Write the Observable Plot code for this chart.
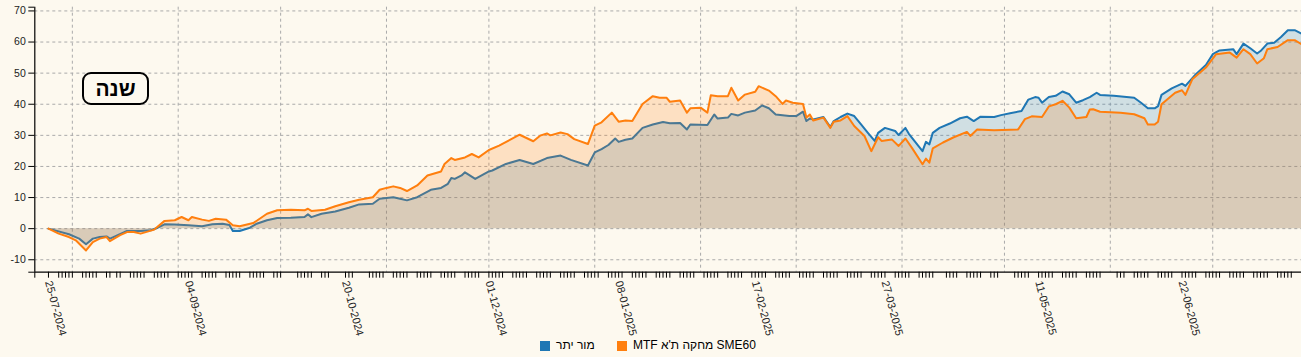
<!DOCTYPE html>
<html>
<head>
<meta charset="utf-8">
<script src="https://cdn.jsdelivr.net/npm/d3@7"></script>
<script src="https://cdn.jsdelivr.net/npm/@observablehq/plot@0.6"></script>
<style>
  html, body { margin: 0; padding: 0; background: #fdf9ef; }
  #wrap { position: relative; width: 1301px; height: 357px; overflow: hidden; }
  #badge { position: absolute; left: 82px; top: 72px; width: 63px; height: 29px; border: 2px solid #000; border-radius: 9px;
           font: bold 21px "Liberation Sans", Arial, sans-serif; color: #000; text-align: center; line-height: 29px; }
  .sw { position: absolute; top: 341px; width: 10px; height: 10px; }
  .lt { position: absolute; top: 338px; font: 12px "Liberation Sans", Arial, sans-serif; color: #000; line-height: 15px; white-space: nowrap; }
</style>
</head>
<body>
<div id="wrap">
  <div id="chart"></div>
  <div id="badge">שנה</div>
  <div id="legend"></div>
</div>
<script>
// ---- data ----
const seriesNames = ["מור יתר", "MTF מחקה ת'א SME60"];
const seriesColors = ["#1f77b4", "#ff7f0e"];

const blueDates = ["2024-07-25","2024-07-31","2024-08-03","2024-08-05","2024-08-07","2024-08-09","2024-08-11","2024-08-12","2024-08-13","2024-08-17",
"2024-08-21","2024-08-24","2024-08-26","2024-08-28","2024-08-31","2024-09-04","2024-09-08","2024-09-11","2024-09-14","2024-09-16",
"2024-09-17","2024-09-19","2024-09-22","2024-09-24","2024-09-27","2024-09-30","2024-10-04","2024-10-08","2024-10-09","2024-10-10",
"2024-10-13","2024-10-17","2024-10-21","2024-10-24","2024-10-28","2024-10-30","2024-11-03","2024-11-05","2024-11-07","2024-11-10",
"2024-11-14","2024-11-17","2024-11-19","2024-11-20","2024-11-21","2024-11-23","2024-11-24","2024-11-27","2024-12-01","2024-12-02",
"2024-12-06","2024-12-10","2024-12-14","2024-12-18","2024-12-22","2024-12-25","2024-12-30","2025-01-01","2025-01-03","2025-01-05",
"2025-01-07","2025-01-08","2025-01-10","2025-01-12","2025-01-15","2025-01-18","2025-01-21","2025-01-23","2025-01-26","2025-01-28",
"2025-01-29","2025-02-03","2025-02-05","2025-02-06","2025-02-09","2025-02-10","2025-02-12","2025-02-14","2025-02-17","2025-02-19",
"2025-02-21","2025-02-23","2025-02-27","2025-03-01","2025-03-03","2025-03-04","2025-03-05","2025-03-06","2025-03-09","2025-03-11",
"2025-03-12","2025-03-14","2025-03-16","2025-03-18","2025-03-20","2025-03-22","2025-03-24","2025-03-25","2025-03-27","2025-03-30",
"2025-03-31","2025-04-02","2025-04-03","2025-04-07","2025-04-08","2025-04-09","2025-04-10","2025-04-12","2025-04-15","2025-04-18",
"2025-04-20","2025-04-22","2025-04-24","2025-04-28","2025-04-30","2025-05-03","2025-05-06","2025-05-08","2025-05-10","2025-05-11",
"2025-05-12","2025-05-14","2025-05-16","2025-05-18","2025-05-20","2025-05-22","2025-05-24","2025-05-26","2025-05-28","2025-05-29",
"2025-06-02","2025-06-08","2025-06-10","2025-06-12","2025-06-14","2025-06-15","2025-06-16","2025-06-19","2025-06-22","2025-06-23",
"2025-06-26","2025-06-29","2025-07-01","2025-07-03","2025-07-07","2025-07-08","2025-07-10","2025-07-12","2025-07-14","2025-07-15",
"2025-07-17","2025-07-19","2025-07-21","2025-07-23","2025-07-25","2025-07-27"];
const blueValues = [0,-1.8,-3.2,-5.0,-3.2,-2.7,-2.5,-3.2,-2.7,-0.75,
-0.75,-0.5,0.3,1.4,1.3,1.1,0.75,1.4,1.6,1.2,
-0.75,-0.75,0.3,1.6,2.7,3.4,3.5,3.75,4.6,3.7,
4.8,5.5,6.7,7.8,8.0,9.6,10.1,9.6,9.1,10.1,
12.5,13.1,14.4,16.3,16.0,17.1,18.1,16.0,18.4,18.7,
20.8,22.1,20.8,22.7,23.5,22.1,20.3,24.5,25.6,26.9,
29.0,27.9,28.6,29.0,32.4,33.5,34.3,33.9,34.0,31.9,
33.5,33.3,36.7,35.4,35.7,36.9,36.4,37.3,38.0,39.6,
38.7,36.7,36.2,36.2,37.6,34.6,35.4,35.1,35.9,32.7,
34.6,35.9,37.0,36.2,33.5,30.8,28.2,30.8,32.4,31.4,
30.1,32.4,30.5,24.9,27.9,27.1,30.8,32.4,33.8,35.5,
36.0,34.6,36.0,35.9,36.5,37.2,37.8,41.5,42.3,42.1,
40.5,42.3,42.7,44.1,43.2,40.5,41.3,42.3,43.7,43.0,
42.7,42.1,40.5,38.7,38.7,39.4,43.0,45.1,46.6,45.9,
49.6,52.6,56.1,57.3,57.7,56.1,59.5,58.0,56.3,57.1,
59.5,59.8,61.6,63.8,63.8,62.7];

const orangeDates = ["2024-07-25","2024-07-28","2024-07-31","2024-08-02","2024-08-05","2024-08-07","2024-08-09","2024-08-11","2024-08-12","2024-08-15",
"2024-08-17","2024-08-19","2024-08-21","2024-08-25","2024-08-28","2024-08-31","2024-09-02","2024-09-04","2024-09-05","2024-09-08",
"2024-09-10","2024-09-12","2024-09-15","2024-09-17","2024-09-19","2024-09-23","2024-09-27","2024-09-30","2024-10-04","2024-10-08",
"2024-10-09","2024-10-10","2024-10-14","2024-10-17","2024-10-21","2024-10-24","2024-10-28","2024-10-30","2024-11-01","2024-11-03",
"2024-11-05","2024-11-07","2024-11-10","2024-11-13","2024-11-17","2024-11-18","2024-11-20","2024-11-21","2024-11-24","2024-11-26",
"2024-11-28","2024-12-01","2024-12-04","2024-12-10","2024-12-14","2024-12-16","2024-12-18","2024-12-19","2024-12-22","2024-12-24",
"2024-12-26","2024-12-30","2025-01-01","2025-01-03","2025-01-06","2025-01-08","2025-01-10","2025-01-12","2025-01-15","2025-01-18",
"2025-01-20","2025-01-22","2025-01-23","2025-01-26","2025-01-28","2025-01-29","2025-02-01","2025-02-03","2025-02-04","2025-02-06",
"2025-02-09","2025-02-10","2025-02-12","2025-02-14","2025-02-17","2025-02-18","2025-02-21","2025-02-23","2025-02-25","2025-02-26",
"2025-02-28","2025-03-03","2025-03-04","2025-03-05","2025-03-06","2025-03-09","2025-03-11","2025-03-12","2025-03-14","2025-03-16",
"2025-03-18","2025-03-21","2025-03-23","2025-03-25","2025-03-26","2025-03-29","2025-03-31","2025-04-02","2025-04-04","2025-04-07",
"2025-04-08","2025-04-09","2025-04-10","2025-04-13","2025-04-16","2025-04-20","2025-04-21","2025-04-23","2025-04-28","2025-05-05",
"2025-05-07","2025-05-09","2025-05-12","2025-05-14","2025-05-16","2025-05-18","2025-05-20","2025-05-22","2025-05-25","2025-05-26",
"2025-05-27","2025-05-29","2025-06-04","2025-06-08","2025-06-11","2025-06-12","2025-06-14","2025-06-15","2025-06-16","2025-06-20",
"2025-06-22","2025-06-23","2025-06-25","2025-06-29","2025-07-02","2025-07-06","2025-07-08","2025-07-10","2025-07-12","2025-07-14",
"2025-07-16","2025-07-17","2025-07-20","2025-07-23","2025-07-25","2025-07-27"];
const orangeValues = [0,-1.6,-2.7,-3.75,-7.0,-4.3,-3.2,-2.7,-4.0,-2.1,
-1.1,-1.1,-1.6,-0.3,2.5,2.7,3.75,2.7,3.75,2.9,
2.5,3.2,2.9,1.1,0.75,1.8,4.8,5.9,6.1,5.9,
6.4,5.7,6.1,7.2,8.5,9.3,10.1,12.5,13.1,13.6,
13.1,12.1,13.9,17.1,18.4,20.8,22.7,22.1,22.9,24.0,
22.9,25.3,26.7,30.2,28.1,29.9,30.6,30.0,30.9,30.4,
28.8,27.2,33.1,34.2,37.3,34.4,34.8,34.6,40.1,42.6,
42.1,42.1,40.8,41.2,37.3,38.7,38.9,37.3,42.9,42.6,
42.6,45.3,41.2,43.1,44.0,45.8,44.4,42.6,40.1,41.2,
40.5,40.1,35.7,36.7,34.8,35.7,32.4,34.4,34.8,36.2,
33.0,29.8,24.9,29.4,28.2,28.7,26.6,29.0,25.8,20.7,
22.5,21.2,25.8,27.7,29.3,31.1,29.8,31.9,31.6,31.9,
35.2,36.1,35.9,39.3,40.0,41.1,38.9,35.5,35.9,38.3,
38.4,37.6,37.3,36.8,35.5,33.5,33.5,34.4,40.0,43.7,
44.5,43.0,48.0,51.8,56.1,56.6,55.0,57.7,56.1,53.1,
54.8,57.7,58.4,60.6,60.6,59.3];

const yTicks = [-10, 0, 10, 20, 30, 40, 50, 60, 70];
const xLabelDates = ["2024-07-25","2024-09-04","2024-10-20","2024-12-01","2025-01-08","2025-02-17","2025-03-27","2025-05-11","2025-06-22"];
const monthGridDates = ["2024-08-01","2024-09-01","2024-10-01","2024-11-01","2024-12-01","2025-01-01","2025-02-01","2025-03-01","2025-04-01","2025-05-01","2025-06-01","2025-07-01"];
const marketHolidays = ["2024-08-13","2024-10-02","2024-10-03","2024-10-16","2024-10-17","2024-10-23","2024-10-24","2025-04-13","2025-04-30","2025-05-01","2025-06-01","2025-06-02"];
const xDomainDates = ["2024-07-21", "2025-07-27"];
const yDomain = [-14, 71.2];

// ---- build ----
const parse = d3.utcParse("%Y-%m-%d");
const key = d3.utcFormat("%Y-%m-%d");
const fmt = d3.utcFormat("%d-%m-%Y");
const xDomain = xDomainDates.map(parse);
const blue = blueDates.map((d, i) => ({date: parse(d), value: blueValues[i]}));
const orange = orangeDates.map((d, i) => ({date: parse(d), value: orangeValues[i]}));
const hol = new Set(marketHolidays);
const tradingDays = d3.utcDay.range(parse(blueDates[0]), d3.utcDay.offset(xDomain[1], 1))
  .filter(d => d.getUTCDay() <= 4 && !hol.has(key(d)));

const chart = Plot.plot({
  width: 1301,
  height: 336,
  marginLeft: 34.3,
  marginRight: 0,
  marginTop: 6.7,
  marginBottom: 64.3,
  style: {background: "transparent", overflow: "visible", fontFamily: "'Liberation Sans', Arial, sans-serif", fontSize: "10.5px", color: "#000"},
  x: {type: "utc", domain: xDomain, axis: null, label: null},
  y: {domain: yDomain, axis: null, label: null},
  marks: [
    Plot.ruleY(yTicks, {stroke: "#aaa", strokeDasharray: "3,3"}),
    Plot.ruleX(monthGridDates.map(parse), {stroke: "#aaa", strokeDasharray: "3,3"}),
    Plot.areaY(blue, {x: "date", y: "value", fill: seriesColors[0], fillOpacity: 0.2}),
    Plot.lineY(blue, {x: "date", y: "value", stroke: seriesColors[0], strokeWidth: 2}),
    Plot.areaY(orange, {x: "date", y: "value", fill: seriesColors[1], fillOpacity: 0.2}),
    Plot.lineY(orange, {x: "date", y: "value", stroke: seriesColors[1], strokeWidth: 2}),
    Plot.ruleX([xDomain[0]], {stroke: "#000", strokeWidth: 1.2}),
    Plot.ruleY([yDomain[0]], {stroke: "#000", strokeWidth: 1.2}),
    Plot.axisY({ticks: yTicks, tickSize: 6, tickPadding: 3, tickFormat: d => String(d), fill: "#222", label: null}),
    Plot.axisY({ticks: yDomain, tickSize: 6, tickFormat: () => "", label: null}),
    Plot.axisX({ticks: [xDomain[0], ...tradingDays], tickSize: 6, tickFormat: () => "", label: null}),
    Plot.text(xLabelDates.map(parse), {x: d => d, text: d => fmt(d), frameAnchor: "bottom", dy: 9, rotate: 75,
      textAnchor: "start", lineAnchor: "middle", fontSize: 11, fill: "#222"})
  ]
});
document.getElementById("chart").appendChild(chart);

// legend
const legend = document.getElementById("legend");
const legendPos = [[540, 556], [617, 633]];
seriesNames.forEach((name, i) => {
  const sw = document.createElement("div");
  sw.className = "sw"; sw.style.left = legendPos[i][0] + "px"; sw.style.background = seriesColors[i];
  const t = document.createElement("div");
  t.className = "lt"; t.style.left = legendPos[i][1] + "px"; t.textContent = name;
  legend.appendChild(sw); legend.appendChild(t);
});
</script>
</body>
</html>
